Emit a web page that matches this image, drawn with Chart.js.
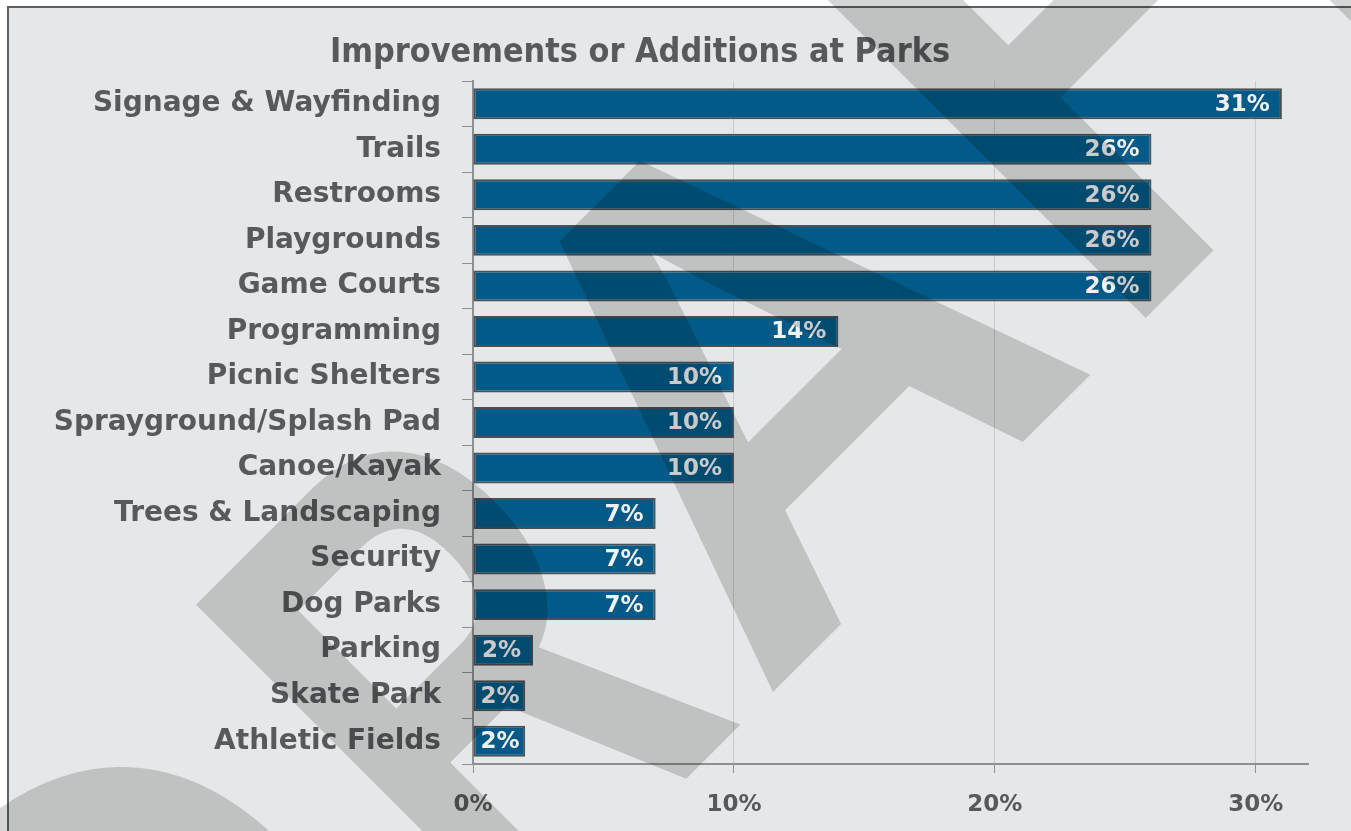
<!DOCTYPE html>
<html>
<head>
<meta charset="utf-8">
<title>Improvements or Additions at Parks</title>
<script src="https://cdn.jsdelivr.net/npm/chart.js@4.4.1/dist/chart.umd.min.js"></script>
<style>
  html, body { margin: 0; padding: 0; background: #fff; }
  #wrap { width: 1351px; height: 831px; position: relative; }
</style>
</head>
<body>
<div id="wrap"><canvas id="chart"></canvas></div>
<script>
/* =========================
   DATA
========================= */
const chartTitle = "Improvements or Additions at Parks";

const categories = [
  "Signage & Wayfinding",
  "Trails",
  "Restrooms",
  "Playgrounds",
  "Game Courts",
  "Programming",
  "Picnic Shelters",
  "Sprayground/Splash Pad",
  "Canoe/Kayak",
  "Trees & Landscaping",
  "Security",
  "Dog Parks",
  "Parking",
  "Skate Park",
  "Athletic Fields"
];

const percents = [31, 26, 26, 26, 26, 14, 10, 10, 10, 7, 7, 7, 2.3, 2, 2];

const xTicks = [0, 10, 20, 30];
const xMax = 32;

const watermarkText = "DRAFT";

/* =========================
   STYLE
========================= */
const FONT = "'DejaVu Sans', Verdana, sans-serif";
const TEXT_GREY = "#58595b";
const PANEL = "#e6e7e8";
const BAR_FILL = "#015a87";
const BAR_EDGE = "#4b5054";

/* =========================
   PLUGINS
========================= */
// grey panel with a thin frame on the left and top, plus the title
const panelPlugin = {
  id: "panel",
  beforeDraw(chart) {
    const ctx = chart.ctx;
    ctx.save();
    ctx.fillStyle = "#fff";
    ctx.fillRect(0, 0, chart.width, chart.height);
    ctx.fillStyle = PANEL;
    ctx.fillRect(8, 7, chart.width, chart.height);
    ctx.strokeStyle = "#5f6062";
    ctx.lineWidth = 2;
    ctx.beginPath();
    ctx.moveTo(8, chart.height + 2);
    ctx.lineTo(8, 7);
    ctx.lineTo(chart.width + 2, 7);
    ctx.stroke();

    // title, squeezed a little so it keeps its width at a taller size
    ctx.fillStyle = TEXT_GREY;
    ctx.font = "bold 33px " + FONT;
    ctx.textAlign = "center";
    ctx.textBaseline = "alphabetic";
    const sx = 620 / ctx.measureText(chartTitle).width;
    ctx.translate(640, 62);
    ctx.scale(sx, 1);
    ctx.fillText(chartTitle, 0, 0);
    ctx.restore();
  }
};

// percentage written inside the end of every bar (kept off the axis on short bars)
const valueLabels = {
  id: "valueLabels",
  afterDatasetsDraw(chart) {
    const ctx = chart.ctx;
    const meta = chart.getDatasetMeta(0);
    ctx.save();
    ctx.fillStyle = "#f2f2f2";
    ctx.font = "bold 23px " + FONT;
    ctx.textAlign = "right";
    ctx.textBaseline = "middle";
    meta.data.forEach((bar, i) => {
      const txt = Math.round(percents[i]) + "%";
      const w = ctx.measureText(txt).width;
      const right = Math.max(bar.x - 12, bar.base + 7 + w);
      ctx.fillText(txt, right, bar.y + 1);
    });
    ctx.restore();
  }
};

// big translucent DRAFT stamp across the whole page
const stampCap = 480;
const stampBox = [
  // ink left / right of each letter along the rotated baseline
  [-798, -392],
  [-291, 12],
  [51, 511],
  [583, 918],
  [787, 1187]
];
const stampFonts = [
  "bold 680px 'Liberation Sans', Arial, sans-serif",
  "bold 680px 'Liberation Sans', Arial, sans-serif",
  "bold 680px 'Liberation Sans', Arial, sans-serif",
  "680px 'DejaVu Sans', sans-serif",
  "bold 680px 'Liberation Sans', Arial, sans-serif"
];
// extra outline (px) thickening a glyph
const stampOutline = [0, 0, 0, 24, 0];

const stampPlugin = {
  id: "stamp",
  afterDraw(chart) {
    const off = document.createElement("canvas");
    off.width = chart.width;
    off.height = chart.height;
    const o = off.getContext("2d");
    o.translate(732.5, 732.5);
    o.rotate(-Math.PI / 4);
    o.fillStyle = "#000";
    o.strokeStyle = "#000";
    o.lineJoin = "miter";
    o.textBaseline = "alphabetic";
    watermarkText.split("").forEach((ch, i) => {
      const [left, right] = stampBox[i];
      const pad = stampOutline[i] / 2;
      o.font = stampFonts[i];
      const m = o.measureText(ch);
      const inkW = m.actualBoundingBoxLeft + m.actualBoundingBoxRight;
      const sx = (right - left - 2 * pad) / inkW;
      const sy = (stampCap - 2 * pad) / m.actualBoundingBoxAscent;
      o.save();
      o.translate(left + pad, -pad);
      o.scale(sx, sy);
      o.fillText(ch, m.actualBoundingBoxLeft, 0);
      if (pad > 0) {
        o.lineWidth = stampOutline[i] * 2 / (sx + sy);
        o.strokeText(ch, m.actualBoundingBoxLeft, 0);
      }
      o.restore();
    });
    const ctx = chart.ctx;
    ctx.save();
    ctx.globalAlpha = 0.16;
    ctx.drawImage(off, 0, 0, chart.width, chart.height);
    ctx.restore();
  }
};

/* =========================
   CHART
========================= */
new Chart(document.getElementById("chart"), {
  type: "bar",
  data: {
    labels: categories,
    datasets: [{
      data: percents,
      backgroundColor: BAR_FILL,
      borderColor: BAR_EDGE,
      borderWidth: 2,
      borderSkipped: false,
      barPercentage: 0.68,
      categoryPercentage: 1
    }]
  },
  options: {
    indexAxis: "y",
    responsive: true,
    maintainAspectRatio: false,
    animation: false,
    layout: { padding: { top: 81, right: 43, left: 0, bottom: 0 } },
    plugins: {
      legend: { display: false },
      title: { display: false },
      tooltip: { enabled: false }
    },
    scales: {
      x: {
        min: 0,
        max: xMax,
        afterBuildTicks: s => { s.ticks = xTicks.map(v => ({ value: v })); },
        afterFit: s => { s.height = 67; },
        grid: {
          color: "#c9cacc",
          tickColor: "#8d8f91",
          tickLength: 9,
          lineWidth: 1
        },
        border: { display: true, color: "#8d8f91", width: 2 },
        ticks: {
          color: TEXT_GREY,
          padding: 18,
          font: { family: FONT, size: 23, weight: "bold" },
          callback: v => v + "%"
        }
      },
      y: {
        afterFit: s => { s.width = 473; },
        grid: {
          drawOnChartArea: false,
          color: "#8d8f91",
          tickLength: 11
        },
        border: { display: true, color: "#8d8f91", width: 2 },
        ticks: {
          color: TEXT_GREY,
          padding: 21,
          font: { family: FONT, size: 28, weight: "bold" }
        }
      }
    }
  },
  plugins: [panelPlugin, valueLabels, stampPlugin]
});
</script>
</body>
</html>
